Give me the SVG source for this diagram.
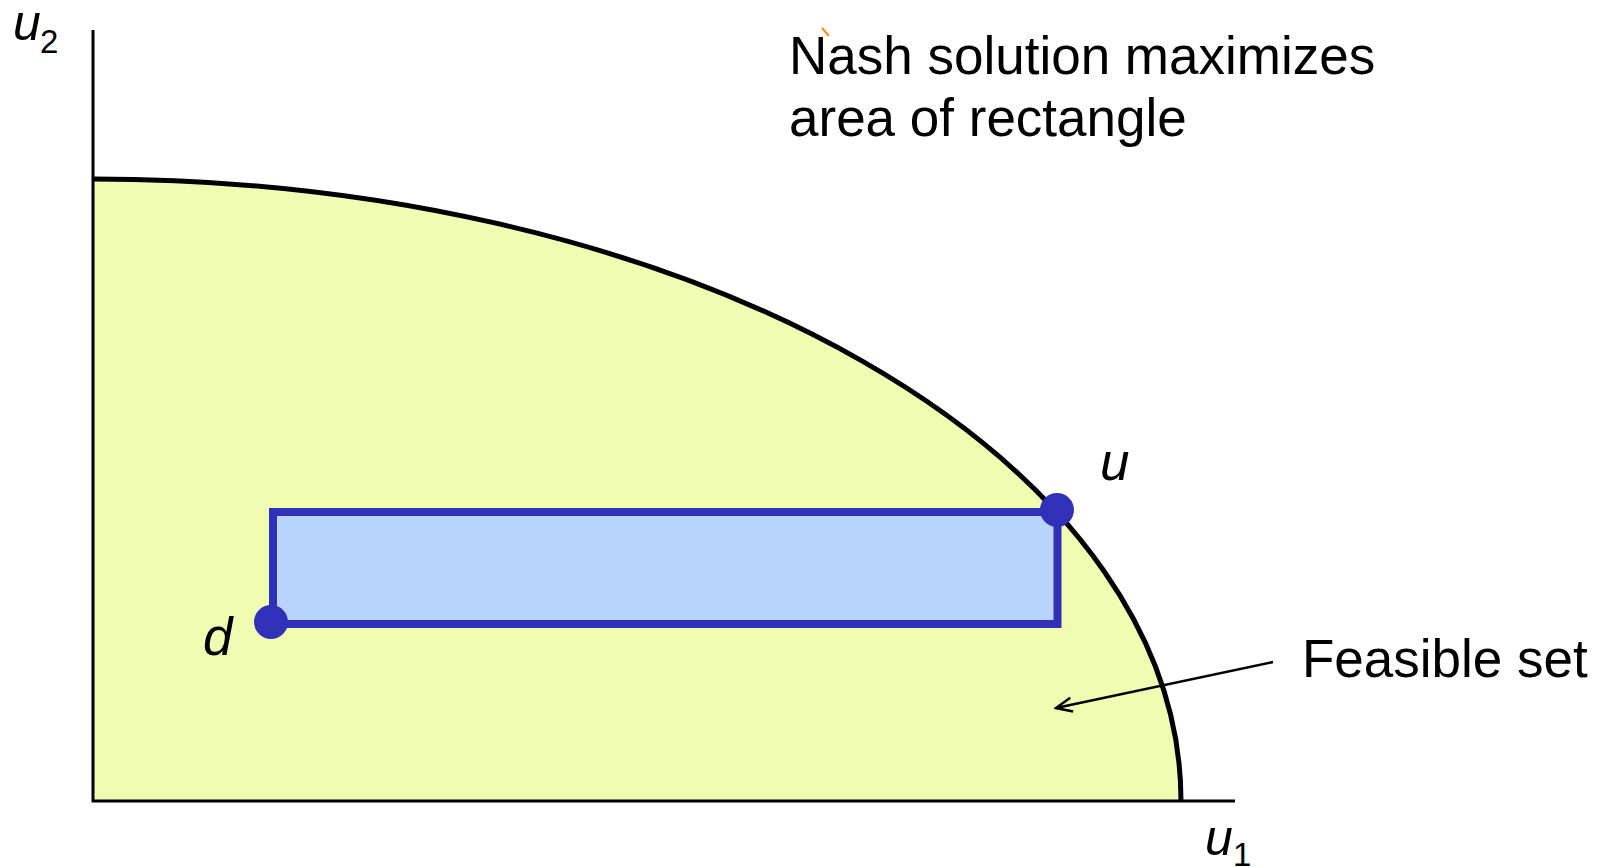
<svg xmlns="http://www.w3.org/2000/svg" width="1608" height="867" viewBox="0 0 1608 867">
<defs>
<style>
.t{font-family:"Liberation Sans",Arial,sans-serif;fill:#000}
.lab{font-size:53px}
.it{font-style:italic}
.axis{stroke:#000;stroke-width:3;fill:none}
.pt{fill:#3030B8}
</style>
<marker id="open" viewBox="0 0 20 20" refX="18" refY="10" markerWidth="20" markerHeight="20" markerUnits="userSpaceOnUse" orient="auto">
<path d="M2,3 L18,10 L2,17" fill="none" stroke="#000" stroke-width="2.5"/>
</marker>
</defs>
<rect width="1608" height="867" fill="#fff"/>
<g id="feasible-set">
<path d="M93,801 L93,179 A1088,622 0 0 1 1181,801 Z" fill="#F0FCB2"/>
<path d="M93,179 A1088,622 0 0 1 1181,801" fill="none" stroke="#000" stroke-width="5"/>
</g>
<g id="axes">
<path class="axis" d="M93,30 L93,801 L1235,801"/>
</g>
<g id="rectangle">
<rect x="273" y="512" width="784.5" height="112" fill="#B8D4FC" stroke="#3030B8" stroke-width="8"/>
</g>
<g id="point-d">
<circle class="pt" cx="271" cy="622" r="17"/>
<text class="t lab it" x="203" y="655">d</text>
</g>
<g id="point-u">
<circle class="pt" cx="1057" cy="510" r="17"/>
<text class="t lab it" x="1100" y="480">u</text>
</g>
<g id="label-u2">
<text class="t it" x="13" y="40" font-size="50">u</text>
<text class="t" x="40" y="53" font-size="33">2</text>
</g>
<g id="label-u1">
<text class="t it" x="1205" y="855" font-size="50">u</text>
<text class="t" x="1233" y="866" font-size="33">1</text>
</g>
<g id="title">
<text class="t lab" x="789" y="74">Nash solution maximizes</text>
<text class="t lab" x="789" y="136">area of rectangle</text>
<line x1="822" y1="28" x2="829" y2="36" stroke="#F0902A" stroke-width="2"/>
</g>
<g id="feasible-label">
<text class="t lab" x="1302" y="677">Feasible set</text>
</g>
<g id="connectors">
<line x1="1273" y1="662" x2="1056" y2="708" stroke="#000" stroke-width="2.5" marker-end="url(#open)"/>
</g>
</svg>
